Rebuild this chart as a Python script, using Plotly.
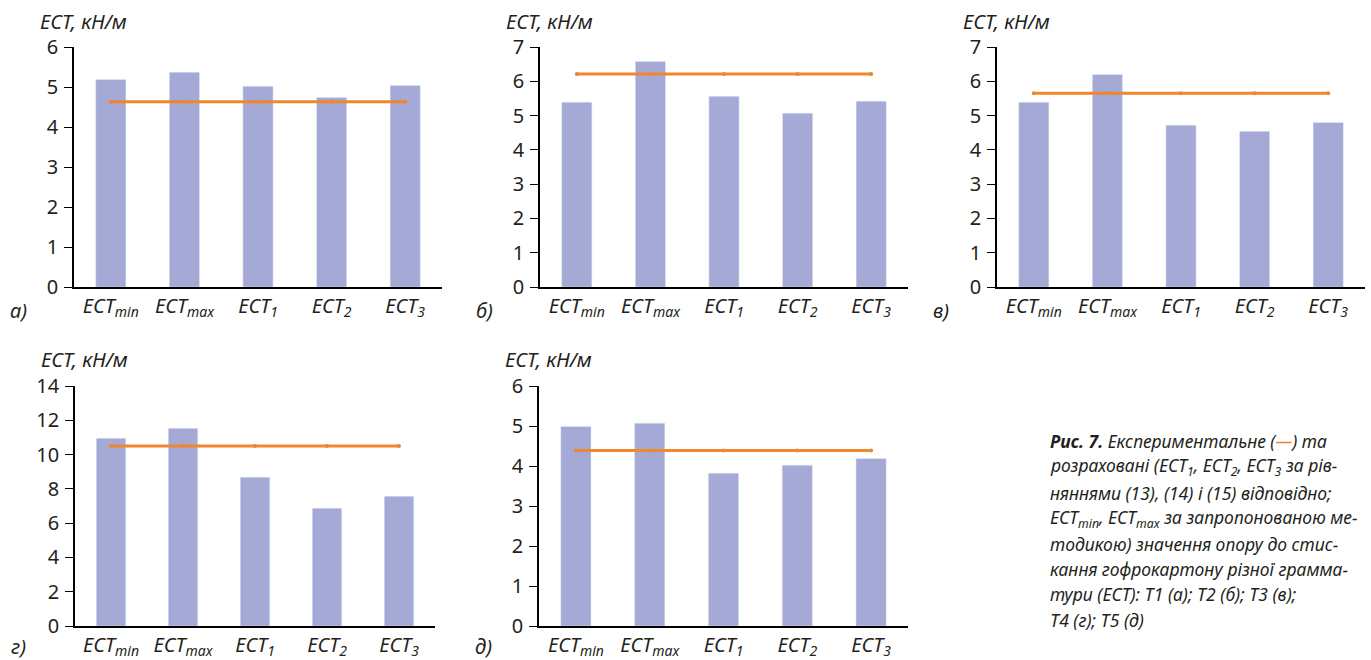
import plotly.graph_objects as go

W, H = 1371, 660

categories = ["ECTmin", "ECTmax", "ECT1", "ECT2", "ECT3"]
tick_labels = ["<i>ECT<sub>min</sub></i>", "<i>ECT<sub>max</sub></i>",
               "<i>ECT<sub>1</sub></i>", "<i>ECT<sub>2</sub></i>", "<i>ECT<sub>3</sub></i>"]

# Calculated values (bars)
calc_a = [5.19, 5.37, 5.02, 4.74, 5.04]
calc_b = [5.39, 6.58, 5.56, 5.07, 5.42]
calc_v = [5.39, 6.20, 4.72, 4.54, 4.80]
calc_g = [10.95, 11.53, 8.68, 6.87, 7.57]
calc_d = [4.99, 5.07, 3.82, 4.02, 4.19]

# Experimental values (line)
exp_a = [4.63, 4.63, 4.63, 4.63, 4.63]
exp_b = [6.21, 6.21, 6.21, 6.21, 6.21]
exp_v = [5.65, 5.65, 5.65, 5.65, 5.65]
exp_g = [10.5, 10.5, 10.5, 10.5, 10.5]
exp_d = [4.39, 4.39, 4.39, 4.39, 4.39]

y_max = [6, 7, 7, 14, 6]
y_dtick = [1, 1, 1, 2, 1]
panel_letters = ["а)", "б)", "в)", "г)", "д)"]
y_title = "ECT, кН/м"

BAR = "#A4A9D5"
LINE = "#F0862D"
TXT = "#231F20"
FONT = "Noto Sans"

# pixel boxes: (left, right, top, bottom)
boxes = [(74, 442, 47, 287), (540, 908, 47, 287), (997, 1365, 47, 287),
         (75, 435, 386, 626), (539, 908, 386, 626)]
title_gap = [25, 25, 25, 27, 27]
letter_gap = [23, 23, 23, 20, 20]

bars = [calc_a, calc_b, calc_v, calc_g, calc_d]
lines = [exp_a, exp_b, exp_v, exp_g, exp_d]

fig = go.Figure()
annotations = []
for i in range(5):
    n = "" if i == 0 else str(i + 1)
    xa, ya = "x" + n, "y" + n
    fig.add_trace(go.Bar(x=categories, y=bars[i], marker_color=BAR, width=0.41,
                         xaxis=xa, yaxis=ya, showlegend=False))
    fig.add_trace(go.Scatter(x=categories, y=lines[i], mode="lines+markers",
                             line=dict(color=LINE, width=3),
                             marker=dict(size=4, color=LINE),
                             xaxis=xa, yaxis=ya, showlegend=False))
    l, r, t, b = boxes[i]
    fig.update_layout(**{
        "xaxis" + n: dict(domain=[l / W, r / W], anchor=ya, range=[-0.5, 4.5],
                          type="category", showline=True, linecolor="black", linewidth=1.5,
                          ticks="", tickvals=categories, ticktext=tick_labels,
                          tickfont=dict(family=FONT, size=20, color=TXT),
                          showgrid=False, zeroline=False, fixedrange=True,
                          automargin=False),
        "yaxis" + n: dict(domain=[1 - b / H, 1 - t / H], anchor=xa, range=[0, y_max[i]],
                          dtick=y_dtick[i], tick0=0, showline=True, linecolor="black",
                          linewidth=1.5, ticks="outside", ticklen=8, tickcolor="black",
                          tickwidth=1.2, tickfont=dict(family=FONT, size=20, color=TXT),
                          showgrid=False, zeroline=False, ticklabelstandoff=2,
                          automargin=False),
    })
    # y title above axis
    annotations.append(dict(xref="paper", yref="paper", x=(l - 36) / W,
                            y=1 - (t - title_gap[i]) / H,
                            xanchor="left", yanchor="middle", showarrow=False,
                            text="<i>" + y_title + "</i>",
                            font=dict(family=FONT, size=20, color=TXT)))
    # panel letter
    annotations.append(dict(xref="paper", yref="paper", x=(l - 66) / W,
                            y=1 - (b + letter_gap[i]) / H,
                            xanchor="left", yanchor="middle", showarrow=False,
                            text="<i>" + panel_letters[i] + "</i>",
                            font=dict(family=FONT, size=20, color=TXT)))

caption_lines = [
    "<b>Рис. 7.</b> Експериментальне (<span style='color:" + LINE + "'>—</span>) та",
    "розраховані (ECT<sub>1</sub>, ECT<sub>2</sub>, ECT<sub>3</sub> за рів-",
    "няннями (13), (14) і (15) відповідно;",
    "ECT<sub>min</sub>, ECT<sub>max</sub> за запропонованою ме-",
    "тодикою) значення опору до стис-",
    "кання гофрокартону різної грамма-",
    "тури (ECT): Т1 (а); Т2 (б); Т3 (в);",
    "Т4 (г); Т5 (д)",
]
caption_y = [441, 467, 493, 518, 544, 569, 594, 620]
for txt, yy in zip(caption_lines, caption_y):
    annotations.append(dict(xref="paper", yref="paper", x=1048 / W, y=1 - yy / H,
                            xanchor="left", yanchor="middle", showarrow=False,
                            text="<i>" + txt + "</i>",
                            font=dict(family=FONT, size=17.5, color=TXT)))

fig.update_layout(width=W, height=H, autosize=False,
                  margin=dict(l=0, r=0, t=0, b=0, autoexpand=False),
                  paper_bgcolor="white", plot_bgcolor="white",
                  bargap=0.5, annotations=annotations)

fig.write_html("out.html", config={"displayModeBar": False},
               post_script="document.body.style.margin='0';document.body.style.padding='0';document.body.style.overflow='hidden';")
